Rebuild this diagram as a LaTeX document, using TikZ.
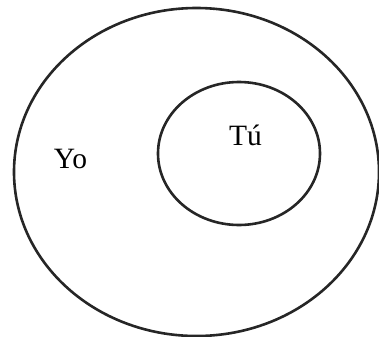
\documentclass[tikz,border=0pt]{standalone}
\usepackage{fontspec}
\setmainfont{Liberation Serif}
\usetikzlibrary{shapes.geometric}

\begin{document}
\begin{tikzpicture}[
        x=1bp, y=-1bp,
        set/.style={draw=black!85, line width=2.6bp, ellipse, inner sep=0pt},
        lbl/.style={font=\fontsize{29.5bp}{31bp}\selectfont, inner sep=0pt}
    ]

    \useasboundingbox (0,0) rectangle (379,337);

    % outer set
    \node[set, minimum width=365bp, minimum height=328bp] (yo) at (196.5,172) {};
    \node[lbl, anchor=base] (yolbl) at (70.5,168) {Yo};

    % inner set
    \node[set, minimum width=162bp, minimum height=143bp] (tu) at (239,153.5) {};
    \node[lbl, anchor=base] (tulbl) at (245.5,145) {Tú};

\end{tikzpicture}
\end{document}
